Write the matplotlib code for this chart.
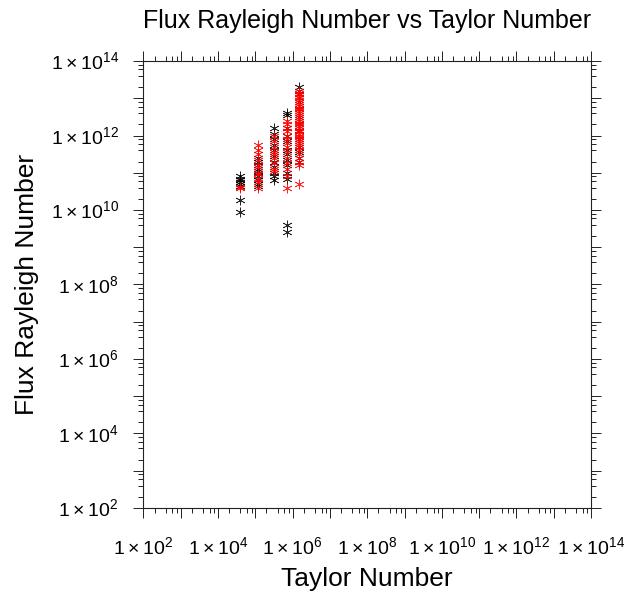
import matplotlib
matplotlib.use("Agg")
import matplotlib.pyplot as plt
from matplotlib.ticker import LogLocator, FixedLocator, NullFormatter

plt.rcParams['font.family'] = ['Liberation Sans', 'DejaVu Sans']
plt.rcParams['mathtext.fontset'] = 'custom'
plt.rcParams['mathtext.rm'] = 'Liberation Sans'

# --- Taylor number of each run group
ta_cols = [3.9e4, 1.2e5, 3.2e5, 7.0e5, 1.5e6]

# --- Flux Rayleigh numbers, black series (per Taylor group)
ra_black = [
    [8.0e10, 7.0e10, 6.3e10, 5.6e10, 5.0e10, 4.5e10, 1.8e10, 9.0e9],
    [2.5e11, 2.0e11, 1.6e11, 1.3e11, 1.1e11, 1.0e11, 8.0e10, 6.3e10, 5.0e10, 4.5e10],
    [1.6e12, 1.1e12, 8.0e11, 5.6e11, 4.0e11, 2.8e11, 2.0e11, 1.4e11, 1.0e11, 8.0e10, 6.3e10],
    [4.0e12, 3.5e12, 1.6e12, 1.0e12, 7.0e11, 4.0e11, 3.2e11, 2.2e11, 1.6e11, 1.0e11, 7.0e10, 4.0e9, 2.5e9],
    [2.0e13, 1.6e13, 1.3e13, 8.0e12, 5.0e12, 3.2e12, 2.0e12, 1.3e12, 8.0e11, 5.0e11, 3.5e11, 2.5e11, 2.0e11],
]

# --- Flux Rayleigh numbers, red series (per Taylor group)
ra_red = [
    [4.2e10, 3.8e10],
    [5.6e11, 4.0e11, 3.2e11, 2.2e11, 1.6e11, 1.4e11, 1.0e11, 9.0e10, 7.0e10, 5.6e10, 4.0e10],
    [1.0e12, 7.0e11, 5.0e11, 3.5e11, 3.2e11, 2.5e11, 1.8e11, 1.3e11, 1.1e11],
    [2.5e12, 2.0e12, 1.6e12, 1.3e12, 1.0e12, 8.0e11, 6.3e11, 5.0e11, 3.5e11, 2.5e11,
     1.8e11, 1.3e11, 8.0e10, 4.0e10],
    [1.6e13, 1.4e13, 1.3e13, 1.1e13, 1.0e13, 9.0e12, 8.0e12, 7.0e12, 6.3e12, 5.6e12,
     5.0e12, 4.5e12, 4.0e12, 3.5e12, 3.2e12, 2.8e12, 2.5e12, 2.2e12, 2.0e12, 1.8e12,
     1.6e12, 1.4e12, 1.3e12, 1.1e12, 1.0e12, 9.0e11, 8.0e11, 7.0e11, 6.3e11, 5.6e11,
     5.0e11, 4.0e11, 3.2e11, 2.5e11, 2.0e11, 1.6e11, 5.0e10],
]

tick_exps = [2, 4, 6, 8, 10, 12, 14]

fig = plt.figure(figsize=(6.24, 5.94), dpi=100)
ax = fig.add_axes([0.2297, 0.1448, 0.7175, 0.7525])

star = (6, 2, 0)
for ta, ys in zip(ta_cols, ra_black):
    ax.scatter([ta] * len(ys), ys, marker=star, s=45, color="black", linewidths=0.5, alpha=0.85)
for ta, ys in zip(ta_cols, ra_red):
    ax.scatter([ta] * len(ys), ys, marker=star, s=45, color="red", linewidths=0.5, alpha=0.85)

ax.set_xscale("log")
ax.set_yscale("log")
ax.set_xlim(1e2, 1e14)
ax.set_ylim(1e2, 1e14)

labels = [r"$1\times10^{%d}$" % e for e in tick_exps]
majors = [10.0 ** e for e in range(2, 15)]
for axis in (ax.xaxis, ax.yaxis):
    axis.set_major_locator(FixedLocator(majors))
    axis.set_minor_locator(LogLocator(base=10, subs=[2, 4, 6, 8], numticks=50))
    axis.set_minor_formatter(NullFormatter())
ax.set_xticks(majors)
ax.set_xticklabels([labels[i // 2] if i % 2 == 0 else "" for i in range(13)])
ax.set_yticks(majors)
ax.set_yticklabels([labels[i // 2] if i % 2 == 0 else "" for i in range(13)])

ax.tick_params(which="both", direction="out", top=True, right=True, width=0.7, colors="#222222")
ax.tick_params(which="major", length=7.5)
ax.tick_params(which="minor", length=3.8)
ax.tick_params(axis="x", which="major", pad=13, labelsize=14, labelcolor="black")
ax.tick_params(axis="y", which="major", pad=10, labelsize=14, labelcolor="black")
for sp in ax.spines.values():
    sp.set_linewidth(0.8)
    sp.set_color("#222222")

ax.set_xlabel("Taylor Number", fontsize=19, labelpad=6)
ax.set_ylabel("Flux Rayleigh Number", fontsize=19, labelpad=8)
ax.set_title("Flux Rayleigh Number vs Taylor Number", fontsize=18, pad=24)

fig.savefig("out.png", dpi=100)
